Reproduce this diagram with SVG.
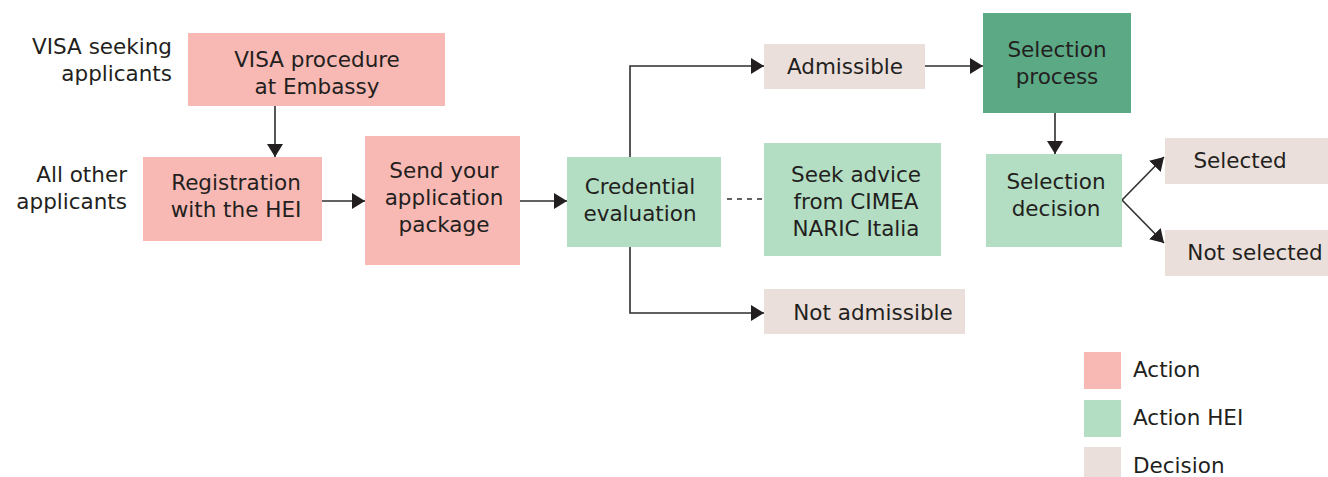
<svg xmlns="http://www.w3.org/2000/svg" width="1328" height="477" viewBox="0 0 1328 477">
<style>
text{font-family:"DejaVu Sans","Liberation Sans",sans-serif;font-size:21.5px;fill:#231f20}
.c{text-anchor:middle}
.r{text-anchor:end}
.act{fill:#f8b9b4}
.hei{fill:#b3dec3}
.dec{fill:#ebdfdb}
.sel{fill:#5ca986}
.ln{stroke:#2e2e2e;stroke-width:1.6;fill:none}
.dash{stroke:#2e2e2e;stroke-width:1.4;fill:none;stroke-dasharray:5 5}
</style>
<defs>
<marker id="ah" viewBox="0 0 13 16" refX="13" refY="8" markerWidth="13" markerHeight="16" markerUnits="userSpaceOnUse" orient="auto">
<path d="M0,0 L13,8 L0,16 Z" fill="#231f20"/>
</marker>
</defs>
<rect width="1328" height="477" fill="#ffffff"/>
<g id="labels">
<text class="r" x="172" y="54">VISA seeking</text>
<text class="r" x="172" y="81">applicants</text>
<text class="r" x="127" y="182">All other</text>
<text class="r" x="127" y="209">applicants</text>
</g>
<g id="connectors">
<path class="ln" d="M275,106 V157" marker-end="url(#ah)"/>
<path class="ln" d="M322,201 H365" marker-end="url(#ah)"/>
<path class="ln" d="M520,201 H567" marker-end="url(#ah)"/>
<path class="ln" d="M630,157 V66 H764" marker-end="url(#ah)"/>
<path class="ln" d="M630,247 V313 H764" marker-end="url(#ah)"/>
<path class="dash" d="M727,199 H764"/>
<path class="ln" d="M925,66 H983" marker-end="url(#ah)"/>
<path class="ln" d="M1055,113 V154" marker-end="url(#ah)"/>
<path class="ln" d="M1122,200 L1164,157" marker-end="url(#ah)"/>
<path class="ln" d="M1122,200 L1164,243" marker-end="url(#ah)"/>
</g>
<g id="visa-procedure">
<rect class="act" x="188" y="33" width="257" height="73"/>
<text class="c" x="317" y="67">VISA procedure</text>
<text class="c" x="317" y="94">at Embassy</text>
</g>
<g id="registration">
<rect class="act" x="143" y="157" width="179" height="84"/>
<text class="c" x="236" y="190">Registration</text>
<text class="c" x="236" y="217">with the HEI</text>
</g>
<g id="send-package">
<rect class="act" x="365" y="136" width="155" height="129"/>
<text class="c" x="444" y="178">Send your</text>
<text class="c" x="444" y="205">application</text>
<text class="c" x="444" y="232">package</text>
</g>
<g id="credential-evaluation">
<rect class="hei" x="567" y="157" width="154" height="90"/>
<text class="c" x="640" y="194">Credential</text>
<text class="c" x="640" y="221">evaluation</text>
</g>
<g id="seek-advice">
<rect class="hei" x="764" y="143" width="177" height="113"/>
<text class="c" x="856" y="182">Seek advice</text>
<text class="c" x="856" y="209">from CIMEA</text>
<text class="c" x="856" y="236">NARIC Italia</text>
</g>
<g id="admissible">
<rect class="dec" x="764" y="44" width="161" height="45"/>
<text class="c" x="845" y="74">Admissible</text>
</g>
<g id="not-admissible">
<rect class="dec" x="764" y="289" width="201" height="45"/>
<text class="c" x="873" y="320">Not admissible</text>
</g>
<g id="selection-process">
<rect class="sel" x="983" y="13" width="148" height="100"/>
<text class="c" x="1057" y="57">Selection</text>
<text class="c" x="1057" y="84">process</text>
</g>
<g id="selection-decision">
<rect class="hei" x="986" y="154" width="136" height="93"/>
<text class="c" x="1056" y="189">Selection</text>
<text class="c" x="1056" y="216">decision</text>
</g>
<g id="selected">
<rect class="dec" x="1165" y="138" width="163" height="46"/>
<text class="c" x="1240" y="168">Selected</text>
</g>
<g id="not-selected">
<rect class="dec" x="1165" y="230" width="163" height="46"/>
<text class="c" x="1255" y="260">Not selected</text>
</g>
<g id="legend">
<rect class="act" x="1084" y="352" width="37" height="37"/>
<text x="1133" y="377">Action</text>
<rect class="hei" x="1084" y="400" width="37" height="37"/>
<text x="1133" y="425">Action HEI</text>
<rect class="dec" x="1084" y="447" width="37" height="30"/>
<text x="1133" y="473">Decision</text>
</g>
</svg>
